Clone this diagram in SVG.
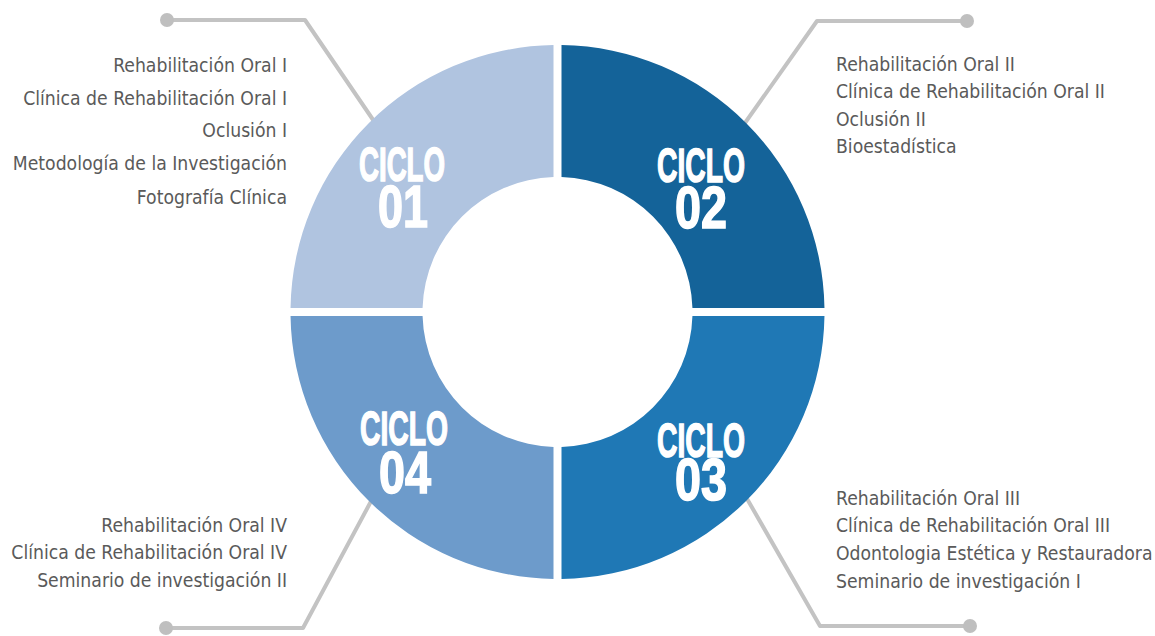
<svg xmlns="http://www.w3.org/2000/svg" width="1155" height="636" viewBox="0 0 1155 636">
  <style>
    .lead { fill: none; stroke: #c3c3c3; stroke-width: 4; stroke-linejoin: round; }
    .dot { fill: #bfbfbf; }
    .item { font-family: "DejaVu Sans Condensed", "DejaVu Sans", sans-serif; font-stretch: condensed; font-size: 19.2px; fill: #5a5a5a; }
    .right { text-anchor: end; }
    .cyc { font-family: "Liberation Sans", Arial, sans-serif; font-weight: bold; fill: #ffffff; stroke: #ffffff; stroke-width: 1.6; text-anchor: middle; }
    .word { font-size: 49px; }
    .num { font-size: 59px; }
  </style>
  <rect width="1155" height="636" fill="#ffffff"/>

  <!-- leader lines, drawn under the ring -->
  <g id="connectors">
    <polyline class="lead" points="167,20 305,20 380,130"/>
    <circle class="dot" cx="167" cy="20" r="7"/>
    <polyline class="lead" points="967,21 817,21 740,130"/>
    <circle class="dot" cx="967" cy="21" r="7"/>
    <polyline class="lead" points="166,628 303,628 376,492"/>
    <circle class="dot" cx="166" cy="628" r="7"/>
    <polyline class="lead" points="970,626 820,626 742,490"/>
    <circle class="dot" cx="970" cy="626" r="7"/>
  </g>

  <!-- ring quarters -->
  <g id="ciclo01">
    <path d="M290.53 308 A267 267 0 0 1 553.5 45.03 L553.5 177.06 A135 135 0 0 0 422.56 308 Z" fill="#b0c4e0"/>
    <text class="cyc"><tspan class="word" x="402" y="181" textLength="86" lengthAdjust="spacingAndGlyphs">CICLO</tspan><tspan class="num" x="403" y="227" textLength="50" lengthAdjust="spacingAndGlyphs">01</tspan></text>
  </g>
  <g id="ciclo02">
    <path d="M561.5 45.03 A267 267 0 0 1 824.47 308 L692.44 308 A135 135 0 0 0 561.5 177.06 Z" fill="#146399"/>
    <text class="cyc"><tspan class="word" x="701" y="182" textLength="88" lengthAdjust="spacingAndGlyphs">CICLO</tspan><tspan class="num" x="701" y="228" textLength="52" lengthAdjust="spacingAndGlyphs">02</tspan></text>
  </g>
  <g id="ciclo03">
    <path d="M824.47 316 A267 267 0 0 1 561.5 578.97 L561.5 446.94 A135 135 0 0 0 692.44 316 Z" fill="#1f78b5"/>
    <text class="cyc"><tspan class="word" x="701" y="457" textLength="88" lengthAdjust="spacingAndGlyphs">CICLO</tspan><tspan class="num" x="701" y="500" textLength="52" lengthAdjust="spacingAndGlyphs">03</tspan></text>
  </g>
  <g id="ciclo04">
    <path d="M553.5 578.97 A267 267 0 0 1 290.53 316 L422.56 316 A135 135 0 0 0 553.5 446.94 Z" fill="#6d9bcb"/>
    <text class="cyc"><tspan class="word" x="404" y="445" textLength="88" lengthAdjust="spacingAndGlyphs">CICLO</tspan><tspan class="num" x="405" y="493" textLength="52" lengthAdjust="spacingAndGlyphs">04</tspan></text>
  </g>

  <!-- course lists -->
  <g id="cursos01" class="item right">
    <text x="287" y="72">Rehabilitación Oral I</text>
    <text x="287" y="105">Clínica de Rehabilitación Oral I</text>
    <text x="287" y="137">Oclusión I</text>
    <text x="287" y="170">Metodología de la Investigación</text>
    <text x="287" y="204">Fotografía Clínica</text>
  </g>
  <g id="cursos02" class="item">
    <text x="836" y="71">Rehabilitación Oral II</text>
    <text x="836" y="98">Clínica de Rehabilitación Oral II</text>
    <text x="836" y="126">Oclusión II</text>
    <text x="836" y="153">Bioestadística</text>
  </g>
  <g id="cursos03" class="item">
    <text x="836" y="505">Rehabilitación Oral III</text>
    <text x="836" y="532">Clínica de Rehabilitación Oral III</text>
    <text x="836" y="560">Odontologia Estética y Restauradora</text>
    <text x="836" y="588">Seminario de investigación I</text>
  </g>
  <g id="cursos04" class="item right">
    <text x="287" y="532">Rehabilitación Oral IV</text>
    <text x="287" y="559">Clínica de Rehabilitación Oral IV</text>
    <text x="287" y="587">Seminario de investigación II</text>
  </g>
</svg>
